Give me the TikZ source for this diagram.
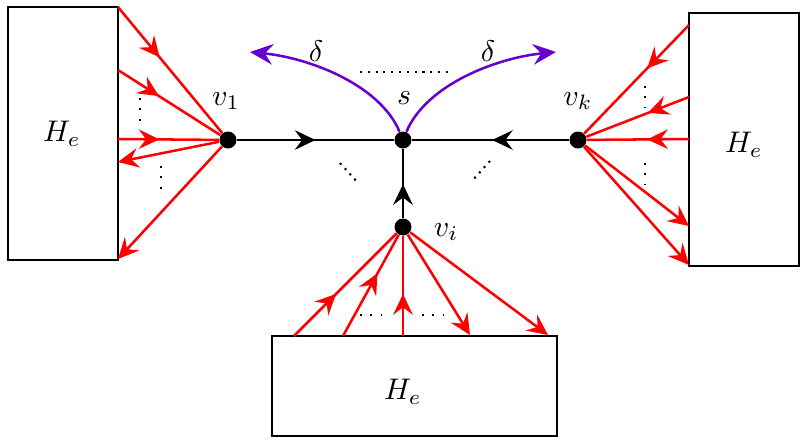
\documentclass[tikz,border=0pt]{standalone}
\usetikzlibrary{arrows.meta,decorations.markings}
\definecolor{deltaViolet}{RGB}{102,0,204}

\begin{document}
\begin{tikzpicture}
    [x=0.4355pt, y=-0.4355pt,
    % Copies of H_e
    hbox/.style={rectangle, draw=black, line width=1pt, inner sep=0pt},
    % Text of the labels
    mathLabel/.style={scale=1.3},
    % Vertices of the star
    vertex/.style={circle, fill=black, inner sep=0pt, minimum size=7.4pt},
    % Star edges towards s
    treeEdge/.style={draw=black, line width=1pt},
    % Edges between a vertex and its copy of H_e
    redEdge/.style={draw=red, line width=1.1pt},
    redOut/.style={redEdge, -{Stealth[length=9pt,width=8.5pt,inset=3.2pt]}},
    % Arrow tip somewhere along an edge
    midArrow/.style={decoration={markings, mark=at position #1 with {\arrow{Stealth[length=9pt,width=8.5pt,inset=3.2pt]}}}, postaction={decorate}},
    % Edges of length delta
    deltaEdge/.style={draw=deltaViolet, line width=1.1pt, -{Stealth[length=10pt,width=9pt,inset=3.5pt]}},
    dotLine/.style={line width=0.9pt, dash pattern=on 0.9pt off #1},
    dotLine/.default=2.4pt]
    \useasboundingbox (0,0) rectangle (807,443);

    % Boxes
    \node [hbox, minimum width=47.9pt, minimum height=110.2pt] (leftBox) at (63,133.5) {};
    \node [hbox, minimum width=47.9pt, minimum height=110.2pt] (rightBox) at (744,139.5) {};
    \node [hbox, minimum width=124.1pt, minimum height=43.6pt] (bottomBox) at (414.5,386) {};
    \node [mathLabel] (heLeft) at (62,134) {$H_e$};
    \node [mathLabel] (heRight) at (744,145) {$H_e$};
    \node [mathLabel] (heBottom) at (403,392) {$H_e$};

    % Vertices
    \node [vertex] (v1) at (228,140) {};
    \node [vertex] (s) at (403,140) {};
    \node [vertex] (vk) at (578,140) {};
    \node [vertex] (vi) at (403,227) {};
    \node [mathLabel] (v1Label) at (226,101) {$v_1$};
    \node [mathLabel] (sLabel) at (404,98) {$s$};
    \node [mathLabel] (vkLabel) at (578,101) {$v_k$};
    \node [mathLabel] (viLabel) at (446,232) {$v_i$};

    % Star edges
    \draw [treeEdge, midArrow=0.5] (v1) -- (s);
    \draw [treeEdge, midArrow=0.49] (vk) -- (s);
    \draw [treeEdge, midArrow=0.49] (vi) -- (s);

    % Delta edges
    \coordinate (deltaL) at (250,52);
    \coordinate (deltaR) at (556,52);
    \draw [deltaEdge] (s) .. controls (380,85) and (310,58) .. (deltaL);
    \draw [deltaEdge] (s) .. controls (426,85) and (496,58) .. (deltaR);
    \node [mathLabel] (deltaLabelL) at (316,51) {$\delta$};
    \node [mathLabel] (deltaLabelR) at (488,51) {$\delta$};

    % Left copy
    \coordinate (l1) at (118,7);
    \coordinate (l2) at (118,70);
    \coordinate (l3) at (118,139);
    \coordinate (l4) at (118,162);
    \coordinate (l5) at (118,259);
    \draw [redEdge, midArrow=0.40] (l1) -- (v1);
    \draw [redEdge, midArrow=0.40] (l2) -- (v1);
    \draw [redEdge, midArrow=0.41] (l3) -- (v1);
    \draw [redOut] (v1) -- (l4);
    \draw [redOut] (v1) -- (l5);

    % Right copy
    \coordinate (r1) at (689,25);
    \coordinate (r2) at (689,97);
    \coordinate (r3) at (689,139);
    \coordinate (r4) at (689,226);
    \coordinate (r5) at (689,265);
    \draw [redEdge, midArrow=0.40] (r1) -- (vk);
    \draw [redEdge, midArrow=0.40] (r2) -- (vk);
    \draw [redEdge, midArrow=0.41] (r3) -- (vk);
    \draw [redOut] (vk) -- (r4);
    \draw [redOut] (vk) -- (r5);

    % Bottom copy
    \coordinate (b1) at (294,336);
    \coordinate (b2) at (343,336);
    \coordinate (b3) at (403,336);
    \coordinate (b4) at (470,335);
    \coordinate (b5) at (548,335);
    \draw [redEdge, midArrow=0.41] (b1) -- (vi);
    \draw [redEdge, midArrow=0.62] (b2) -- (vi);
    \draw [redEdge, midArrow=0.42] (b3) -- (vi);
    \draw [redOut] (vi) -- (b4);
    \draw [redOut] (vi) -- (b5);

    % Dots
    \draw [dotLine=2.5pt] (360,72) -- (448,72);
    \draw [dotLine=2.2pt] (340,163) -- (359,184);
    \draw [dotLine=2.2pt] (490,161) -- (471,182);
    \draw [dotLine=3.6pt] (140,98) -- (140,128);
    \draw [dotLine=3.6pt] (161,166) -- (161,194);
    \draw [dotLine=3.6pt] (645,86) -- (645,107);
    \draw [dotLine=3.6pt] (645,163) -- (645,184);
    \draw [dotLine=3.6pt] (360,315) -- (381,315);
    \draw [dotLine=3.6pt] (422,315) -- (443,315);
\end{tikzpicture}
\end{document}
